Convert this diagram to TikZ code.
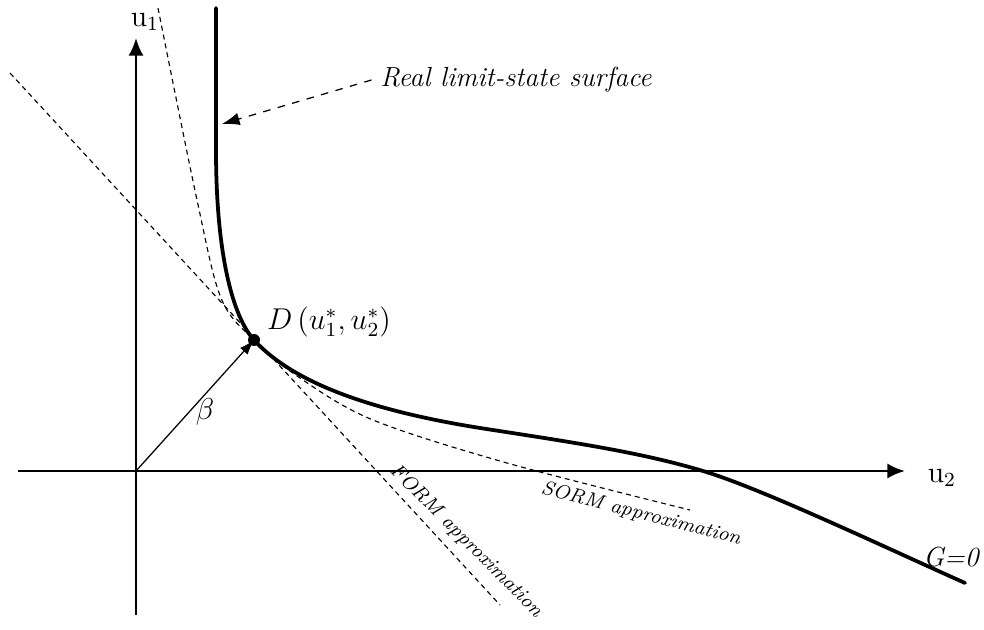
\documentclass[tikz,border=0pt]{standalone}
\usepackage{tikz}
\usetikzlibrary{arrows.meta,positioning}

\begin{document}
\begin{tikzpicture}[x=0.014cm, y=-0.014cm, font=\small,
    axis/.style={line width=1.1pt, -{Latex[length=7pt,width=6pt]}},
    approx/.style={dash pattern=on 2pt off 1.6pt, line width=0.45pt},
    lsurf/.style={line width=1.5pt, line cap=round, line join=round}]
    \useasboundingbox (0,0) rectangle (984,630);

    % axes
    \coordinate (O) at (136,471);
    \coordinate (u1top) at (136,38);
    \coordinate (u2end) at (905,471);
    \draw[axis] (136,615) -- (u1top);
    \draw[axis] (18,471) -- (u2end);
    \node (u1lab) at (145,22) {\large $\mathrm{u}_1$};
    \node (u2lab) at (942,478) {\large $\mathrm{u}_2$};

    % design point
    \coordinate (D) at (254,340);

    % FORM and SORM approximations
    \draw[approx] (10,73) -- (500,605);
    \draw[approx] plot[smooth, tension=0.55] coordinates
      {(158,8) (197,200) (221,298) (254,340) (300,378) (373,420) (507,463) (690,510)};

    % real limit-state surface
    \draw[lsurf] (216,8) -- (216,150) .. controls (216,255) and (233,317) .. (D)
      .. controls (296,386) and (380,412) .. (480,428)
      .. controls (570,442) and (640,452) .. (703,471)
      .. controls (760,488) and (880,545) .. (965,583);

    \fill (D) circle (6);
    \draw[line width=0.5pt, -{Latex[length=6pt,width=4pt]}] (O) -- (D);
    \node (beta) at (205,412) {\large $\beta$};
    \node (Dlab) at (329,322) {\large $D\,(u_1^*,u_2^*)$};

    % labels
    \node (real) at (516,80) {\fontsize{11}{13}\selectfont\itshape Real limit-state surface};
    \coordinate (realtip) at (222,124);
    \draw[dashed, line width=0.5pt, -{Latex[length=7pt,width=5pt]}] (real.west) -- (realtip);
    \node[rotate=-45] (form) at (466,541) {\footnotesize\itshape FORM approximation};
    \node[rotate=-14.5] (sorm) at (641,514) {\footnotesize\itshape SORM approximation};
    \node (G) at (951,557) {\fontsize{11}{13}\selectfont\itshape G=0};
\end{tikzpicture}
\end{document}
